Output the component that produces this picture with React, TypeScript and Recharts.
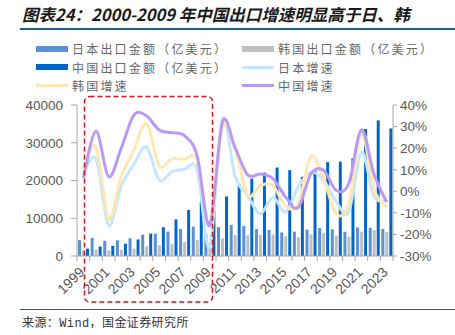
import React from "react";
import { Bar, ComposedChart, Line, XAxis, YAxis } from "recharts";

const W = 455;
const H = 335;
const PLOT_LEFT = 77;
const PLOT_RIGHT = 393;
const PLOT_TOP = 105;
const PLOT_BOTTOM = 256;

const years = [
  "1999", "2000", "2001", "2002", "2003", "2004", "2005", "2006", "2007",
  "2008", "2009", "2010", "2011", "2012", "2013", "2014", "2015", "2016",
  "2017", "2018", "2019", "2020", "2021", "2022", "2023",
];

// 出口金额（亿美元）
const japanExports = [
  4193, 4792, 4034, 4167, 4719, 5655, 5949, 6469, 7143, 7814, 5807, 7698,
  8232, 7986, 7150, 6902, 6248, 6449, 6981, 7382, 7056, 6413, 7561, 7469, 7170,
];
const koreaExports = [
  1437, 1723, 1504, 1625, 1938, 2538, 2844, 3255, 3715, 4220, 3635, 4664,
  5552, 5479, 5596, 5727, 5268, 4954, 5737, 6049, 5422, 5125, 6444, 6836, 6327,
];
const chinaExports = [
  1949, 2492, 2661, 3256, 4382, 5933, 7620, 9690, 12200, 14307, 12016, 15778,
  18984, 20487, 22090, 23423, 22735, 20976, 22633, 24867, 24995, 25900, 33630,
  35936, 33800,
];

// 增速（%）
const japanGrowth = [
  8, 15, -15.8, 2.5, 12.5, 20.5, 5.3, 9, 10.2, 10, -25.8, 33.5,
  7, -2, -10.4, -2.8, -9.6, 2, 9, 5.3, -4.8, -9.6, 18.2, -2.5, -4.2,
];
const koreaGrowth = [
  10, 20.5, -12.7, 7, 19.2, 31.3, 11.8, 15, 14.8, 14.5, -14.8, 29.5,
  20, -1.8, 2.6, 2.6, -6.8, -6, 16, 6.2, -10.4, -5.7, 27, 1, -7.3,
];
const chinaGrowth = [
  6.1, 27.8, 6.8, 20, 35.3, 35, 28.4, 27.2, 25.8, 16.5, -15.8, 32,
  20.3, 7.6, 8, 5.9, -2.6, -7.6, 8, 9.8, 0.5, 3.6, 28.5, 7.8, -5,
];

const leftTicks = [0, 10000, 20000, 30000, 40000];
const rightTicks = [-30, -20, -10, 0, 10, 20, 30, 40];

const data = years.map((year, i) => ({
  year,
  jp: japanExports[i],
  kr: koreaExports[i],
  cn: chinaExports[i],
  jpG: japanGrowth[i],
  krG: koreaGrowth[i],
  cnG: chinaGrowth[i],
}));

const BAND = (PLOT_RIGHT - PLOT_LEFT) / years.length;
const AXIS = "#A6A6A6";
const TEXT = "#595959";
const FONT = "'Liberation Sans', Arial, sans-serif";

// Excel-like smoothed line (Catmull-Rom through each point)
const smooth = (context: any) => {
  let pts: number[][] = [];
  return {
    areaStart() {},
    areaEnd() {},
    lineStart() {
      pts = [];
    },
    point(x: number, y: number) {
      pts.push([+x, +y]);
    },
    lineEnd() {
      const n = pts.length;
      if (!n) return;
      context.moveTo(pts[0][0], pts[0][1]);
      for (let i = 0; i < n - 1; i++) {
        const p0 = pts[i - 1] || pts[i];
        const p1 = pts[i];
        const p2 = pts[i + 1];
        const p3 = pts[i + 2] || p2;
        context.bezierCurveTo(
          p1[0] + (p2[0] - p0[0]) / 6,
          p1[1] + (p2[1] - p0[1]) / 6,
          p2[0] - (p3[0] - p1[0]) / 6,
          p2[1] - (p3[1] - p1[1]) / 6,
          p2[0],
          p2[1]
        );
      }
    },
  };
};

function YearTick(props: any) {
  const { x, y, index, payload } = props;
  const half = BAND / 2;
  const tx = x + 2;
  const ty = y + 17;
  return (
    <g>
      <line x1={x - half} x2={x - half} y1={y} y2={y + 5} stroke={AXIS} />
      {index === years.length - 1 && (
        <line x1={x + half} x2={x + half} y1={y} y2={y + 5} stroke={AXIS} />
      )}
      {index % 2 === 0 && (
        <text
          x={tx}
          y={ty}
          transform={`rotate(-45, ${tx}, ${ty})`}
          textAnchor="end"
          fontSize={14}
          fontFamily={FONT}
          fill={TEXT}
        >
          {payload.value}
        </text>
      )}
    </g>
  );
}

const legendItems = [
  { label: "日本出口金额（亿美元）", color: "#5B8FD8", bar: true, x: 36, y: 48.5 },
  { label: "韩国出口金额（亿美元）", color: "#BFBFBF", bar: true, x: 242, y: 48.5 },
  { label: "中国出口金额（亿美元）", color: "#0066CC", bar: true, x: 36, y: 67.3 },
  { label: "日本增速", color: "#C4E7FC", bar: false, x: 242, y: 67.3 },
  { label: "韩国增速", color: "#FFE7B3", bar: false, x: 36, y: 85.7 },
  { label: "中国增速", color: "#B99AF5", bar: false, x: 242, y: 85.7 },
];

export default function App() {
  return (
    <div
      style={{
        position: "absolute",
        left: 0,
        top: 0,
        width: W,
        height: H,
        background: "#fff",
        overflow: "hidden",
      }}
    >
      <div
        style={{
          position: "absolute",
          left: 22,
          top: 3,
          fontFamily: "'Noto Sans CJK SC', sans-serif",
          fontSize: 16.5,
          fontWeight: 700,
          fontStyle: "italic",
          color: "#1a1a1a",
          whiteSpace: "nowrap",
          lineHeight: "22px",
        }}
      >
        图表24：2000-2009 年中国出口增速明显高于日、韩
      </div>
      <div style={{ position: "absolute", left: 20, top: 28, width: 435, height: 1.5, background: "#1F5E8C" }} />

      {legendItems.map((d) => (
        <div
          key={d.label}
          style={{
            position: "absolute",
            left: d.x,
            top: d.y - 9,
            height: 18,
            display: "flex",
            alignItems: "center",
            whiteSpace: "nowrap",
          }}
        >
          <div style={{ width: 32, height: d.bar ? 6 : 3, background: d.color, marginRight: 4 }} />
          <span
            style={{
              fontFamily: "'Noto Sans CJK SC', sans-serif",
              fontSize: 12,
              letterSpacing: 2.2,
              color: "#666",
            }}
          >
            {d.label}
          </span>
        </div>
      ))}

      <div style={{ position: "absolute", left: 0, top: 0 }}>
        <ComposedChart
          width={W}
          height={H}
          data={data}
          margin={{ top: PLOT_TOP, right: 0, left: 0, bottom: 0 }}
          barSize={3}
          barGap={1}
        >
          <XAxis
            dataKey="year"
            interval={0}
            tickLine={false}
            tickSize={0}
            tickMargin={0}
            height={H - PLOT_BOTTOM}
            stroke={AXIS}
            tick={<YearTick />}
          />
          <YAxis
            yAxisId="left"
            width={PLOT_LEFT}
            domain={[0, 40000]}
            ticks={leftTicks}
            stroke={AXIS}
            tickSize={6}
            tickMargin={8}
            tick={{ fill: TEXT, fontSize: 13.5, fontFamily: FONT }}
          />
          <YAxis
            yAxisId="right"
            orientation="right"
            width={W - PLOT_RIGHT}
            domain={[-30, 40]}
            ticks={rightTicks}
            stroke={AXIS}
            tickSize={4}
            tickMargin={3}
            tickFormatter={(v: number) => `${v}%`}
            tick={{ fill: TEXT, fontSize: 13.5, fontFamily: FONT }}
          />
          <Bar yAxisId="left" dataKey="jp" fill="#5B8FD8" isAnimationActive={false} />
          <Bar yAxisId="left" dataKey="kr" fill="#BFBFBF" isAnimationActive={false} />
          <Bar yAxisId="left" dataKey="cn" fill="#0066CC" isAnimationActive={false} />
          <Line yAxisId="right" dataKey="jpG" type={smooth as any} stroke="#C4E7FC" strokeWidth={3} dot={false} isAnimationActive={false} />
          <Line yAxisId="right" dataKey="krG" type={smooth as any} stroke="#FFE7B3" strokeWidth={3} dot={false} isAnimationActive={false} />
          <Line yAxisId="right" dataKey="cnG" type={smooth as any} stroke="#B99AF5" strokeWidth={3} dot={false} isAnimationActive={false} />
        </ComposedChart>
      </div>

      <svg width={W} height={H} style={{ position: "absolute", left: 0, top: 0, pointerEvents: "none" }}>
        <rect
          x={84.5}
          y={96.5}
          width={128}
          height={205.5}
          rx={5}
          fill="none"
          stroke="#D4161E"
          strokeWidth={1.5}
          strokeDasharray="5 3"
        />
      </svg>

      <div style={{ position: "absolute", left: 20, top: 308.5, width: 435, height: 1.5, background: "#1F5E8C" }} />
      <div
        style={{
          position: "absolute",
          left: 22,
          top: 316,
          fontFamily: "'Liberation Mono', 'Noto Sans CJK SC', monospace",
          fontSize: 12,
          letterSpacing: 0.4,
          color: "#333",
          whiteSpace: "nowrap",
          lineHeight: "16px",
        }}
      >
        来源：Wind，国金证券研究所
      </div>
    </div>
  );
}
